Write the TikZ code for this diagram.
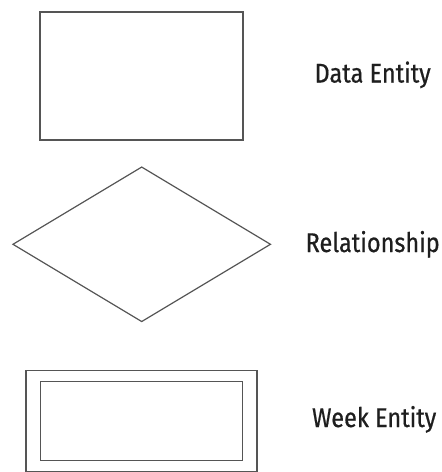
\documentclass[tikz,border=0pt]{standalone}
\usepackage{fontspec}
\newfontfamily\labelfont[FakeStretch=0.87, FakeBold=0.6]{Fira Sans}
\usetikzlibrary{shapes.geometric, positioning}
\definecolor{cline}{HTML}{555555}
\definecolor{ctext}{HTML}{1E1E1E}
\tikzset{
  every picture/.style={x=1pt, y=-1pt, line width=1.2pt},
  shapebox/.style={draw=cline, inner sep=0pt},
  legend/.style={font=\labelfont\fontsize{27}{31}\selectfont, text=ctext, anchor=base west, inner sep=0pt},
}
\begin{document}
\begin{tikzpicture}
  \useasboundingbox (0,0) rectangle (442,472);
  % symbols
  \node[shapebox, minimum width=203pt, minimum height=128pt] (entity) at (141.5, 76) {};
  \node[shapebox, diamond, minimum width=258pt, minimum height=155pt] (relation) at (141.7, 244.3) {};
  \node[shapebox, minimum width=231pt, minimum height=101pt] (weakout) at (141.5, 421) {};
  \node[shapebox, minimum width=202pt, minimum height=79pt] (weakin) at (141.7, 421.3) {};
  % names
  \node[legend] (entitytext) at (314, 82.5) {Data Entity};
  \node[legend] (relationtext) at (305, 252) {Relationship};
  \node[legend] (weaktext) at (311.5, 427) {Week Entity};
\end{tikzpicture}
\end{document}
